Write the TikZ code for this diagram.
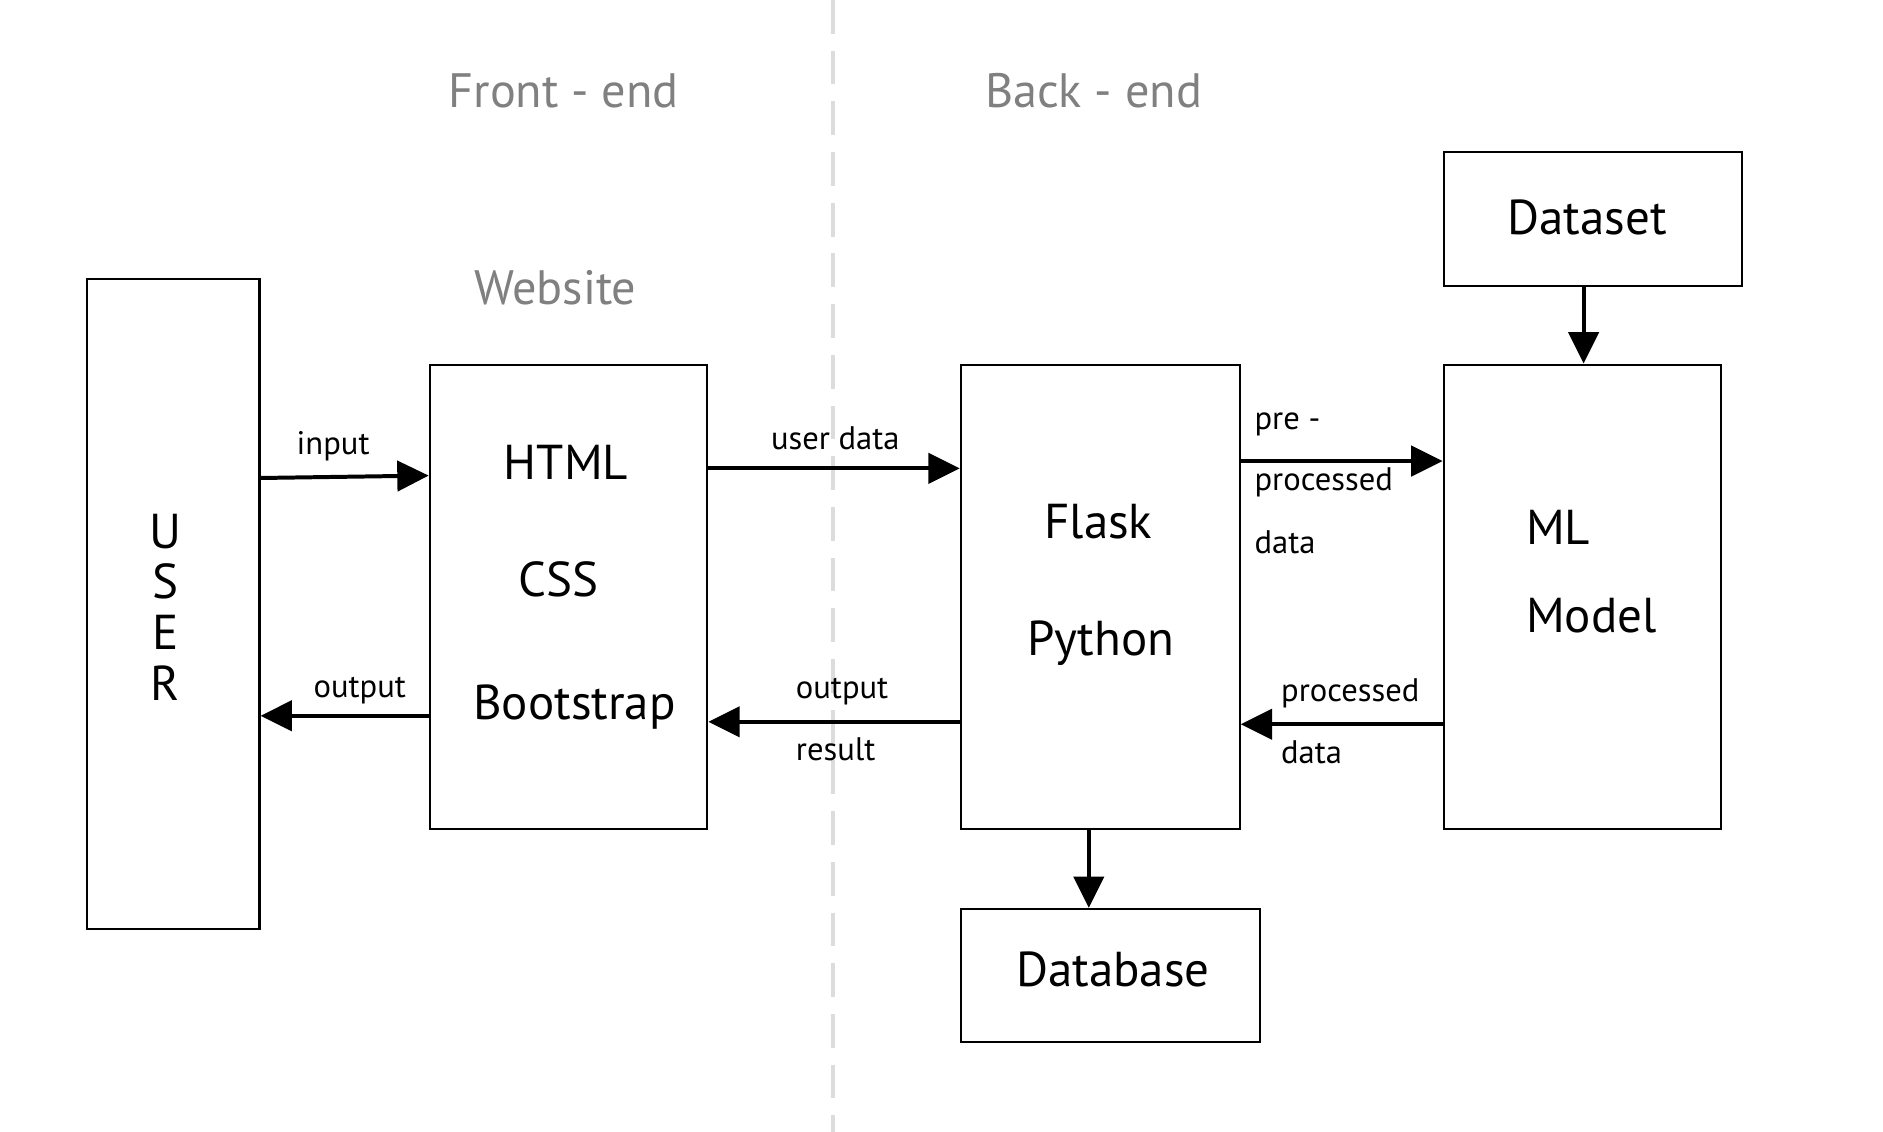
\documentclass[tikz,border=0pt]{standalone}
\usepackage{fontspec}
\setmainfont{PT Sans}
\usetikzlibrary{arrows.meta,fit,calc}
\definecolor{hdr}{HTML}{808080}
\definecolor{dashc}{HTML}{DCDCDC}
\tikzset{
  box/.style={draw=black, line width=0.85pt, inner sep=0pt, fill=none},
  arr/.style={line width=1.65pt, -{Triangle[length=13pt,width=12.5pt]}},
  big/.style={font=\fontsize{20.3}{23}\selectfont, inner sep=0pt},
  hdrtxt/.style={font=\fontsize{20}{23}\selectfont, text=hdr, inner sep=0pt},
  lbl/.style={font=\fontsize{13.5}{15}\selectfont, inner sep=0pt},
}
\begin{document}
\begin{tikzpicture}[x=0.5pt,y=-0.5pt]
\useasboundingbox (0,0) rectangle (1560,937);
% divider
\coordinate (dtop) at (690,0);
\coordinate (dbot) at (690,940);
\draw[dashc, line width=1.8pt, dash pattern=on 14pt off 7pt] (dtop) -- (dbot);
% headers
\node[hdrtxt] (fe) at (467,75) {Front - end};
\node[hdrtxt] (be) at (906,75) {Back - end};
\node[hdrtxt] (web) at (460,238) {Website};
% boxes
\node[box, fit={(72,231) (215,770)}] (user) {};
\node[box, fit={(356,302) (586,687)}] (html) {};
\node[box, fit={(796,302) (1027,687)}] (flask) {};
\node[box, fit={(1196,302) (1426,687)}] (ml) {};
\node[box, fit={(1196,126) (1443,237)}] (dataset) {};
\node[box, fit={(796,753) (1044,863)}] (database) {};
% box texts
\node[big] (u1) at (137,440) {U};
\node[big] (u2) at (137,482) {S};
\node[big] (u3) at (137,524) {E};
\node[big] (u4) at (137,566) {R};
\node[big] (t1) at (469,383) {HTML};
\node[big] (t2) at (463,480) {CSS};
\node[big] (t3) at (476,586) {Bootstrap};
\node[big] (t4) at (910,432) {Flask};
\node[big] (t5) at (912,533) {Python};
\node[big, anchor=west] (t6) at (1264,437) {ML};
\node[big, anchor=west] (t7) at (1264,510) {Model};
\node[big] (t8) at (1315,180) {Dataset};
\node[big] (t9) at (922,803) {Database};
% connectors
\draw[arr] (user.east |- 0,396) -- (html.west |- 0,394);
\draw[arr] (html.west |- 0,593) -- (user.east |- 0,593);
\draw[arr] (html.east |- 0,388) -- (flask.west |- 0,388);
\draw[arr] (flask.west |- 0,598) -- (html.east |- 0,598);
\draw[arr] (flask.east |- 0,382) -- (ml.west |- 0,382);
\draw[arr] (ml.west |- 0,600) -- (flask.east |- 0,600);
\draw[arr] (dataset.south -| 1312,0) -- (ml.north -| 1312,0);
\draw[arr] (flask.south -| 902,0) -- (database.north -| 902,0);
% labels
\node[lbl] (l1) at (276,370) {input};
\node[lbl] (l2) at (298,572) {output};
\node[lbl] (l3) at (692,363) {user data};
\node[lbl, anchor=west] (l4) at (659,573) {output};
\node[lbl, anchor=west] (l5) at (659,621) {result};
\node[lbl, anchor=west] (l6) at (1039,352) {pre -};
\node[lbl, anchor=west] (l7) at (1039,400) {processed};
\node[lbl, anchor=west] (l8) at (1039,449) {data};
\node[lbl, anchor=west] (l9) at (1061,574) {processed};
\node[lbl, anchor=west] (l10) at (1061,623) {data};
\end{tikzpicture}
\end{document}
